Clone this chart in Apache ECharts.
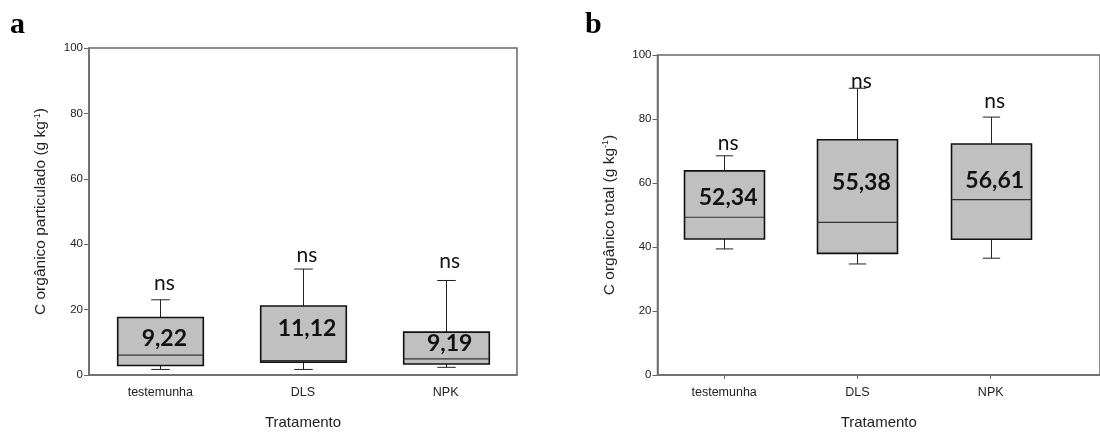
<!DOCTYPE html>
<html>
<head>
<meta charset="utf-8">
<title>Carbono orgânico por tratamento</title>
<script src="https://cdn.jsdelivr.net/npm/echarts@6/dist/echarts.min.js"></script>
<style>
  html, body { margin: 0; padding: 0; background: #ffffff; }
  #chart { width: 1100px; height: 435px; }
</style>
</head>
<body>
<div id="chart"></div>
<script>
// Treatments on the x axis
const categories = ['testemunha', 'DLS', 'NPK'];

// Panel a: C orgânico particulado (g kg-1)
const copMin    = [1.7, 1.7, 2.35];
const copQ1     = [2.9, 3.95, 3.35];
const copMedian = [6.1, 4.4, 4.95];
const copQ3     = [17.6, 21.1, 13.1];
const copMax    = [23.0, 32.4, 28.9];
const copMean   = [9.22, 11.12, 9.19];
const copSig    = ['ns', 'ns', 'ns'];

// Panel b: C orgânico total (g kg-1)
const cotMin    = [39.4, 34.7, 36.5];
const cotQ1     = [42.5, 38.0, 42.4];
const cotMedian = [49.3, 47.7, 54.8];
const cotQ3     = [63.8, 73.5, 72.2];
const cotMax    = [68.5, 89.6, 80.6];
const cotMean   = [52.34, 55.38, 56.61];
const cotSig    = ['ns', 'ns', 'ns'];

// ---- layout / style ----
const BOX_WIDTH = 0.6;      // in category units
const CAP_WIDTH = 0.13;
const BOX_FILL = '#c0c0c0';
const AXIS_COLOR = '#6a6a6a';
const LABEL_DX = 4;
// vertical nudges (px) for the mean labels and the "ns" marks
const copMeanDy = [-6, -10, -1];
const copSigDy  = [-17, -14, -19];
const cotMeanDy = [-9.5, -15.5, -13];
const cotSigDy  = [-12.5, -7, -15.5];

const positions = categories.map((c, i) => i + 1);

function boxRows(lo, q1, md, q3, hi) {
  return positions.map((x, i) => [x, lo[i], q1[i], md[i], q3[i], hi[i]]);
}

function renderBox(params, api) {
  const x = api.value(0);
  const lo = api.coord([x, api.value(1)]);
  const q1 = api.coord([x, api.value(2)]);
  const md = api.coord([x, api.value(3)]);
  const q3 = api.coord([x, api.value(4)]);
  const hi = api.coord([x, api.value(5)]);
  const half = api.size([BOX_WIDTH, 0])[0] / 2;
  const cap = api.size([CAP_WIDTH, 0])[0] / 2;
  const cx = Math.round(lo[0]) + 0.5;
  const line = (x1, y1, x2, y2, w, c) => ({
    type: 'line',
    shape: { x1, y1, x2, y2 },
    style: { stroke: c, lineWidth: w }
  });
  return {
    type: 'group',
    children: [
      line(cx, q3[1], cx, hi[1], 1, '#222'),
      line(cx - cap, hi[1], cx + cap, hi[1], 1, '#222'),
      line(cx, q1[1], cx, lo[1], 1, '#222'),
      line(cx - cap, lo[1], cx + cap, lo[1], 1, '#222'),
      {
        type: 'rect',
        shape: { x: cx - half, y: q3[1], width: half * 2, height: q1[1] - q3[1] },
        style: { fill: BOX_FILL, stroke: '#111', lineWidth: 1.6 }
      },
      line(cx - half, md[1], cx + half, md[1], 1.2, '#333')
    ]
  };
}

function textSeries(xAxisIndex, yAxisIndex, values, texts, dys, font) {
  return {
    type: 'custom',
    xAxisIndex, yAxisIndex,
    data: positions.map((x, i) => [x, values[i]]),
    encode: { x: 0, y: 1 },
    silent: true,
    z: 5,
    renderItem: (params, api) => {
      const p = api.coord([api.value(0), api.value(1)]);
      const i = params.dataIndex;
      return {
        type: 'text',
        x: p[0] + LABEL_DX,
        y: p[1] + dys[i],
        style: {
          text: texts[i],
          font: font,
          fill: '#111',
          align: 'center',
          verticalAlign: 'middle'
        }
      };
    }
  };
}

const fmt = v => v.toFixed(2).replace('.', ',');

const tickFont = { fontFamily: 'Liberation Sans', fontSize: 11.5, color: '#222' };

function yAxis(gridIndex, title) {
  return {
    type: 'value', gridIndex, min: 0, max: 100, interval: 20,
    axisLine: { show: true, lineStyle: { color: AXIS_COLOR, width: 1.5 } },
    axisTick: { show: true, length: 5, lineStyle: { color: AXIS_COLOR } },
    splitLine: { show: false },
    axisLabel: Object.assign({ margin: 6 }, tickFont),
    name: '{t|' + title + '}{s|-1}{t|)}',
    nameLocation: 'middle',
    nameRotate: 90,
    nameGap: 40,
    nameTextStyle: {
      rich: {
        t: { fontFamily: 'Liberation Sans', fontSize: 15.5, color: '#222' },
        s: { fontFamily: 'Liberation Sans', fontSize: 9, color: '#222', verticalAlign: 'top' }
      }
    }
  };
}

function xAxis(gridIndex, max, ticks) {
  return {
    type: 'value', gridIndex, min: 0.5, max,
    axisLine: { show: true, onZero: false, lineStyle: { color: AXIS_COLOR, width: 1.5 } },
    axisTick: { show: ticks, length: 4, customValues: positions, lineStyle: { color: AXIS_COLOR } },
    splitLine: { show: false },
    axisLabel: {
      customValues: positions,
      formatter: v => categories[Math.round(v) - 1] || '',
      margin: 11,
      fontFamily: 'Liberation Sans', fontSize: 12.5, color: '#222'
    },
    name: 'Tratamento',
    nameLocation: 'middle',
    nameGap: 40,
    nameTextStyle: { fontFamily: 'Liberation Sans', fontSize: 15, color: '#222' }
  };
}

const chart = echarts.init(document.getElementById('chart'), null, { renderer: 'canvas' });

// panel b continues past the right edge of the page
const RIGHT_MAX = 3.82;

chart.setOption({
  animation: false,
  backgroundColor: '#ffffff',
  grid: [
    { left: 89, top: 48, width: 428, height: 334, show: true, borderColor: AXIS_COLOR, borderWidth: 1.5 },
    { left: 657.5, top: 55, width: (RIGHT_MAX - 0.5) * 138.8, height: 328, show: true, borderColor: AXIS_COLOR, borderWidth: 1.5 }
  ],
  xAxis: [xAxis(0, 3.5, false), xAxis(1, RIGHT_MAX, true)],
  yAxis: [
    yAxis(0, 'C orgânico particulado (g kg'),
    yAxis(1, 'C orgânico total (g kg')
  ],
  graphic: [
    { type: 'text', left: 10, top: 10, style: { text: 'a', font: 'bold 30px "Liberation Serif"', fill: '#000' } },
    { type: 'text', left: 585, top: 10, style: { text: 'b', font: 'bold 30px "Liberation Serif"', fill: '#000' } }
  ],
  series: [
    {
      type: 'custom', xAxisIndex: 0, yAxisIndex: 0,
      data: boxRows(copMin, copQ1, copMedian, copQ3, copMax),
      encode: { x: 0, y: [1, 2, 3, 4, 5] },
      renderItem: renderBox
    },
    {
      type: 'custom', xAxisIndex: 1, yAxisIndex: 1,
      data: boxRows(cotMin, cotQ1, cotMedian, cotQ3, cotMax),
      encode: { x: 0, y: [1, 2, 3, 4, 5] },
      renderItem: renderBox
    },
    textSeries(0, 0, copMean, copMean.map(fmt), copMeanDy, 'bold 23px Lato'),
    textSeries(0, 0, copMax, copSig, copSigDy, '21px Lato'),
    textSeries(1, 1, cotMean, cotMean.map(fmt), cotMeanDy, 'bold 23px Lato'),
    textSeries(1, 1, cotMax, cotSig, cotSigDy, '21px Lato')
  ]
});
</script>
</body>
</html>
